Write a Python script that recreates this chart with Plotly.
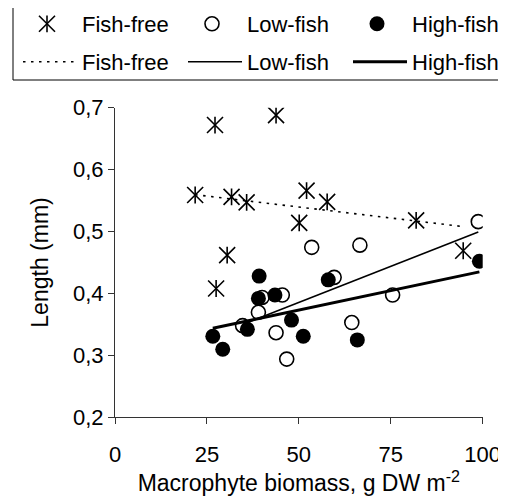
import numpy as np
import plotly.graph_objects as go

# ---- data ----
ff_x = [21.8, 27.2, 43.8, 31.7, 35.8, 52.1, 50.1, 57.7, 81.9, 94.7, 30.5, 27.5]
ff_y = [0.559, 0.672, 0.688, 0.556, 0.547, 0.566, 0.514, 0.548, 0.518, 0.469, 0.462, 0.408]

lf_x = [98.8, 53.5, 66.6, 59.6, 75.5, 45.5, 40.0, 39.0, 34.7, 43.8, 46.7, 64.4]
lf_y = [0.516, 0.4745, 0.478, 0.426, 0.3975, 0.3975, 0.3935, 0.3696, 0.348, 0.3366, 0.294, 0.353]

hf_x = [26.6, 29.3, 36.0, 39.2, 39.0, 43.5, 48.0, 51.2, 58.0, 65.9, 99.1]
hf_y = [0.331, 0.310, 0.342, 0.428, 0.392, 0.3975, 0.357, 0.331, 0.422, 0.325, 0.452]

series_names = ["Fish-free", "Low-fish", "High-fish"]
x_ticks = [0, 25, 50, 75, 100]
y_ticks = [0.2, 0.3, 0.4, 0.5, 0.6, 0.7]

# page has an 8px body margin: make the figure that much smaller and shift by it
OFF = 8
W, H = 506 - OFF, 499 - OFF
FONT = "Liberation Sans, Arial, sans-serif"


def px(x):
    return (x - OFF) / W


def py(y):
    return 1 - (y - OFF) / H


def trend(xs, ys):
    xs = np.asarray(xs, float)
    ys = np.asarray(ys, float)
    k, b = np.polyfit(xs, ys, 1)
    xe = np.array([xs.min(), xs.max()])
    return xe, k * xe + b


fig = go.Figure()

# markers
fig.add_trace(go.Scatter(x=ff_x, y=ff_y, mode="markers", name=series_names[0], legend="legend",
                         marker=dict(symbol="x-thin-open", size=16, color="black",
                                     line=dict(color="black", width=1.6))))
fig.add_trace(go.Scatter(x=ff_x, y=ff_y, mode="markers", name=series_names[0], legend="legend3",
                         marker=dict(symbol="line-ns-open", size=12, color="black",
                                     line=dict(color="black", width=1.6))))
fig.add_trace(go.Scatter(x=lf_x, y=lf_y, mode="markers", name=series_names[1], legend="legend",
                         marker=dict(symbol="circle-open", size=14, color="black",
                                     line=dict(color="black", width=1.6))))
fig.add_trace(go.Scatter(x=hf_x, y=hf_y, mode="markers", name=series_names[2], legend="legend",
                         marker=dict(symbol="circle", size=15, color="black",
                                     line=dict(color="black", width=0))))

# trend lines (least squares fit of each group)
for xs, ys, nm, w, dash in [(ff_x, ff_y, series_names[0], 1.6, "2.5px,5.5px"),
                            (lf_x, lf_y, series_names[1], 1.6, "solid"),
                            (hf_x, hf_y, series_names[2], 3.0, "solid")]:
    xe, ye = trend(xs, ys)
    fig.add_trace(go.Scatter(x=xe, y=ye, mode="lines", name=nm, legend="legend2",
                             line=dict(color="black", width=w, dash=dash)))

LEG_FS = 22
legend_common = dict(orientation="h", xanchor="left", yanchor="middle",
                     bgcolor="rgba(0,0,0,0)", borderwidth=0,
                     font=dict(family=FONT, size=LEG_FS, color="black"),
                     entrywidthmode="pixels", traceorder="normal")

fig.update_layout(
    width=W, height=H,
    margin=dict(l=0, r=0, t=0, b=0, autoexpand=False),
    paper_bgcolor="white", plot_bgcolor="white",
    separators=", ",
    font=dict(family=FONT, size=22, color="black"),
    legend=dict(**legend_common, x=px(12), y=py(24), itemwidth=60, entrywidth=90),
    legend3=dict(**{**legend_common, "font": dict(family=FONT, size=LEG_FS, color="rgba(0,0,0,0)")},
                 x=px(12), y=py(24), itemwidth=60, entrywidth=90),
    legend2=dict(**legend_common, x=px(18), y=py(62), itemwidth=54, entrywidth=96),
    xaxis=dict(domain=[px(115), px(482.7)], range=[0, 100], tickvals=x_ticks,
               showline=True, linecolor="#333", linewidth=1, ticks="outside", ticklen=6,
               tickcolor="#333", showgrid=False, zeroline=False,
               tickfont=dict(size=22), ticklabelstandoff=11,
               title=dict(text="Macrophyte biomass, g DW m<sup>-2</sup>", font=dict(size=23), standoff=6)),
    yaxis=dict(domain=[py(417.3), py(107.7)], range=[0.2, 0.7], tickvals=y_ticks,
               tickformat=".1f",
               showline=True, linecolor="#333", linewidth=1, ticks="outside", ticklen=6,
               tickcolor="#333", showgrid=False, zeroline=False,
               tickfont=dict(size=22),
               title=dict(text="Length (mm)", font=dict(size=23), standoff=17)),
    shapes=[dict(type="rect", xref="paper", yref="paper",
                 x0=px(13), x1=px(502), y0=py(80), y1=py(5),
                 line=dict(color="black", width=1), fillcolor="rgba(0,0,0,0)", layer="above")],
)

fig.write_html("out.html")
